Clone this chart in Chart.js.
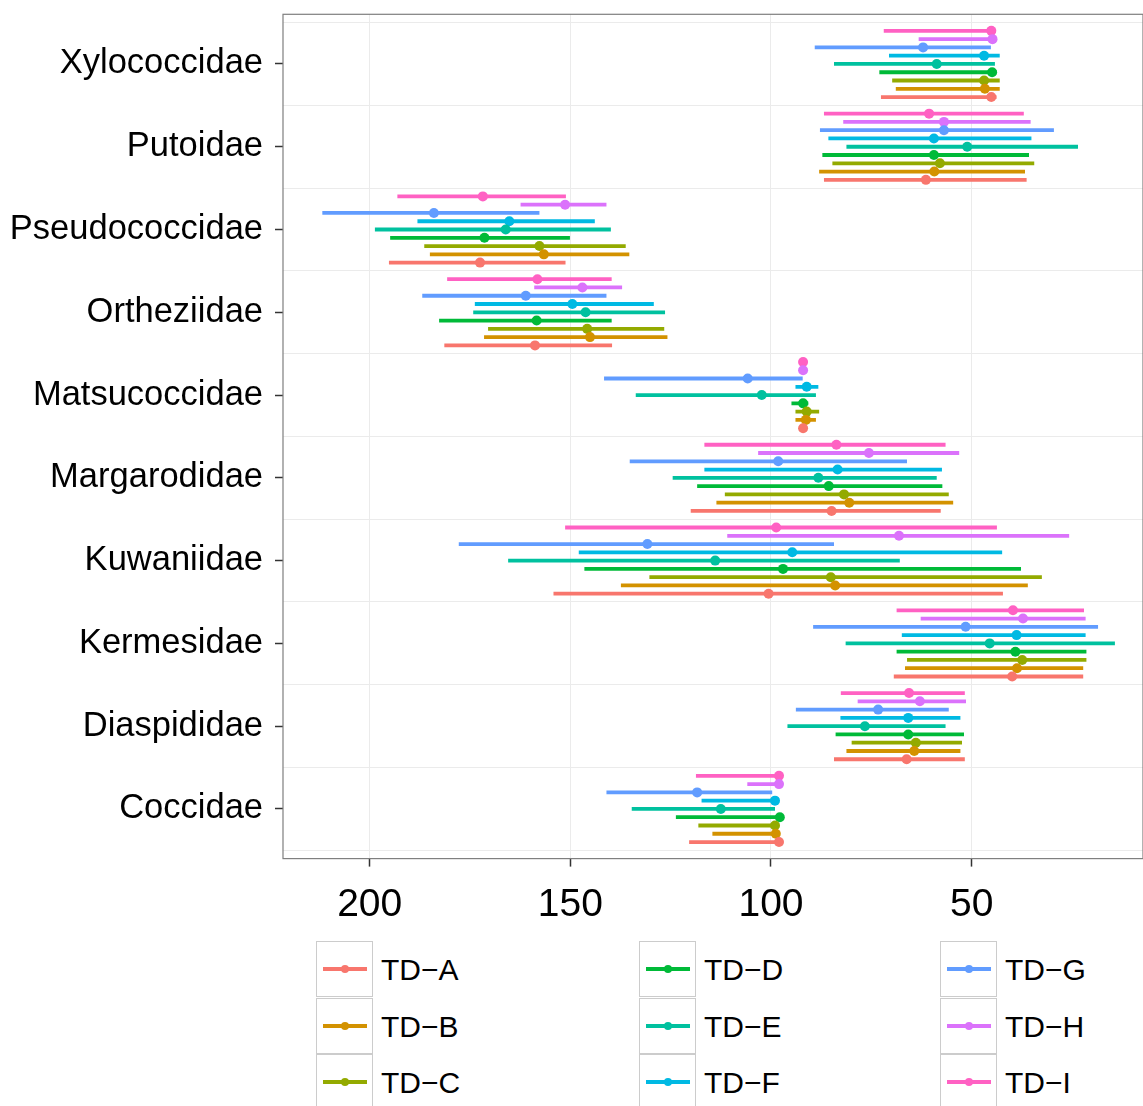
<!DOCTYPE html>
<html>
<head>
<meta charset="utf-8">
<script src="https://cdn.jsdelivr.net/npm/chart.js@4.4.1/dist/chart.umd.min.js"></script>
<style>
  body { margin: 0; background: #fff; width: 1143px; height: 1106px; overflow: hidden; position: relative;
         font-family: "Liberation Sans", Arial, sans-serif; }
  #chart { position: absolute; left: 0; top: 0; }
  .key { position: absolute; width: 55px; height: 54px; border: 1.5px solid #cccccc; background: #fff; }
  .key .seg { position: absolute; left: 6px; top: 25px; width: 44px; height: 4px; }
  .key .dot { position: absolute; left: 24px; top: 23px; width: 8px; height: 8px; border-radius: 50%; }
  .lab { position: absolute; font-size: 30px; line-height: 57px; height: 57px; color: #000; }
</style>
</head>
<body>
<canvas id="chart" width="1143" height="940"></canvas>
<div id="legend"></div>
<script>
// families, top to bottom
const families = ['Xylococcidae', 'Putoidae', 'Pseudococcidae', 'Ortheziidae', 'Matsucoccidae',
                  'Margarodidae', 'Kuwaniidae', 'Kermesidae', 'Diaspididae', 'Coccidae'];
const seriesNames = ['TD−A', 'TD−B', 'TD−C', 'TD−D', 'TD−E', 'TD−F', 'TD−G', 'TD−H', 'TD−I'];
const colors = ['#F8766D', '#D39200', '#93AA00', '#00BA38', '#00C19F', '#00B9E3', '#619CFF', '#DB72FB', '#FF61C3'];
const xTicks = [200, 150, 100, 50];

// [lower, estimate, upper] per family (same order as families)
const tdA = [[43.8, 45.1, 72.6], [36.3, 61.4, 86.8], [151.2, 172.5, 195.2], [139.6, 158.8, 181.4], [92, 92, 92],
             [57.7, 84.9, 120.0], [42.2, 100.6, 154.2], [22.2, 39.9, 69.4], [51.7, 66.2, 84.3], [98.0, 98.0, 120.4]];
const tdB = [[43.0, 46.7, 68.9], [36.7, 59.3, 88.0], [135.3, 156.6, 185.0], [125.8, 145.1, 171.5], [88.8, 91.3, 93.9],
             [54.6, 80.5, 113.6], [36.0, 84.0, 137.4], [22.2, 38.7, 66.6], [52.8, 64.3, 81.2], [98.8, 98.8, 114.6]];
const tdC = [[43.0, 46.9, 69.8], [34.4, 57.9, 84.7], [136.2, 157.7, 186.4], [126.6, 145.8, 170.5], [88.0, 91.1, 93.9],
             [55.7, 81.8, 111.5], [32.5, 85.1, 130.3], [21.4, 37.4, 66.1], [52.4, 63.9, 79.9], [99.0, 99.0, 118.1]];
const tdD = [[43.8, 44.9, 73.0], [35.7, 59.4, 87.2], [150.1, 171.4, 194.9], [139.7, 158.4, 182.7], [90.7, 92.0, 94.9],
             [57.3, 85.6, 118.4], [37.7, 97.0, 146.5], [21.4, 39.1, 68.7], [51.9, 65.8, 83.9], [97.8, 97.8, 123.7]];
const tdE = [[44.2, 58.7, 84.3], [23.5, 51.1, 81.2], [139.9, 166.1, 198.7], [126.4, 146.2, 174.2], [88.8, 102.3, 133.7],
             [58.7, 88.2, 124.5], [67.9, 113.9, 165.5], [14.3, 45.5, 81.4], [56.5, 76.6, 95.9], [99.0, 112.5, 134.7]];
const tdF = [[43.0, 46.9, 70.6], [35.1, 59.4, 85.7], [143.9, 165.2, 188.1], [129.2, 149.5, 173.8], [88.2, 91.1, 93.9],
             [57.4, 83.4, 116.6], [42.4, 94.7, 147.9], [21.6, 38.8, 67.4], [52.8, 65.8, 82.7], [99.0, 99.0, 117.3]];
const tdG = [[45.2, 62.1, 89.1], [29.5, 56.9, 87.8], [157.7, 184.0, 211.8], [141.0, 161.1, 186.9], [92.1, 105.8, 141.6],
             [66.1, 98.2, 135.2], [84.3, 130.8, 177.8], [18.5, 51.5, 89.5], [55.7, 73.3, 93.8], [99.7, 118.4, 141.0]];
const tdH = [[44.0, 44.8, 63.2], [35.3, 56.9, 82.0], [141.0, 151.3, 162.4], [137.1, 147.0, 159.0], [92, 92, 92],
             [53.1, 75.6, 103.2], [25.7, 68.1, 110.9], [21.6, 37.2, 62.7], [51.4, 62.9, 78.4], [98.0, 98.0, 105.9]];
const tdI = [[44.0, 45.1, 71.9], [37.0, 60.6, 86.8], [151.1, 171.8, 193.1], [139.7, 158.2, 180.7], [92, 92, 92],
             [56.5, 83.7, 116.6], [43.7, 98.7, 151.3], [22.0, 39.7, 68.7], [51.7, 65.6, 82.6], [98.0, 98.0, 118.7]];
const seriesData = [tdA, tdB, tdC, tdD, tdE, tdF, tdG, tdH, tdI];

const FONT = '"Liberation Sans", Arial, sans-serif';
const dodge = 0.1;
const nFam = families.length;

const datasets = [];
seriesData.forEach((rows, s) => {
  const seg = [], dots = [];
  rows.forEach((r, k) => {
    const y = (nFam - 1 - k) + (s - 4) * dodge;
    seg.push({x: r[0], y: y}, {x: r[2], y: y}, {x: null, y: null});
    dots.push({x: r[1], y: y});
  });
  datasets.push({
    label: seriesNames[s], data: seg, showLine: true, spanGaps: false,
    borderColor: colors[s], borderWidth: 3.8, borderCapStyle: 'butt',
    pointRadius: 0, order: 2
  });
  datasets.push({
    label: seriesNames[s], data: dots, backgroundColor: colors[s],
    pointRadius: 5, pointBorderWidth: 0, order: 1
  });
});

const panelBorder = {
  id: 'panelBorder',
  afterDraw(chart) {
    const {ctx, chartArea: a} = chart;
    ctx.save();
    ctx.strokeStyle = '#7f7f7f';
    ctx.lineWidth = 1.2;
    ctx.strokeRect(a.left, a.top, a.right - a.left, a.bottom - a.top);
    ctx.restore();
  }
};

function noPad(sc) {
  sc.paddingTop = 0; sc.paddingBottom = 0; sc.paddingLeft = 0; sc.paddingRight = 0;
}

new Chart(document.getElementById('chart'), {
  type: 'scatter',
  data: {datasets: datasets},
  plugins: [panelBorder],
  options: {
    responsive: false,
    devicePixelRatio: 1,
    animation: false,
    events: [],
    layout: {autoPadding: false, padding: {top: 14.3, left: 0, right: 0, bottom: 0}},
    plugins: {legend: {display: false}, tooltip: {enabled: false}},
    scales: {
      x: {
        type: 'linear', position: 'bottom', reverse: true, min: 7.3, max: 221.6,
        afterBuildTicks: sc => { sc.ticks = xTicks.map(v => ({value: v})); },
        afterFit: sc => { sc.height = 81.4; noPad(sc); },
        border: {display: false},
        grid: {color: '#ebebeb', lineWidth: 1, tickColor: '#333', tickLength: 8, tickWidth: 1.5},
        ticks: {font: {family: FONT, size: 39}, color: '#000', padding: 15, maxRotation: 0}
      },
      y: {
        type: 'linear', position: 'left', min: -0.6, max: 9.6,
        afterBuildTicks: sc => { sc.ticks = families.map((f, i) => ({value: i})); },
        afterFit: sc => { sc.width = 283; noPad(sc); },
        border: {display: false},
        grid: {drawOnChartArea: false, tickColor: '#333', tickLength: 8, tickWidth: 1.5},
        ticks: {font: {family: FONT, size: 34.5}, color: '#000', padding: 12,
                callback: v => families[nFam - 1 - v]}
      },
      yGrid: {
        type: 'linear', position: 'right', min: -0.6, max: 9.6,
        afterBuildTicks: sc => { sc.ticks = families.map((f, i) => ({value: i - 0.5})).concat([{value: nFam - 0.5}]); },
        afterFit: sc => { sc.width = 0; noPad(sc); },
        border: {display: false},
        grid: {color: '#ebebeb', lineWidth: 1, drawTicks: false},
        ticks: {display: false}
      }
    }
  }
});

// legend, filled column by column
const colLeft = [316, 639, 940];
const rowTop = [941, 998, 1054];
const legend = document.getElementById('legend');
seriesNames.forEach((name, i) => {
  const c = Math.floor(i / 3), r = i % 3;
  const key = document.createElement('div');
  key.className = 'key';
  key.style.left = colLeft[c] + 'px';
  key.style.top = rowTop[r] + 'px';
  key.innerHTML = '<div class="seg" style="background:' + colors[i] + '"></div>' +
                  '<div class="dot" style="background:' + colors[i] + '"></div>';
  legend.appendChild(key);
  const lab = document.createElement('div');
  lab.className = 'lab';
  lab.style.left = (colLeft[c] + 65) + 'px';
  lab.style.top = rowTop[r] + 'px';
  lab.textContent = name;
  legend.appendChild(lab);
});
</script>
</body>
</html>
